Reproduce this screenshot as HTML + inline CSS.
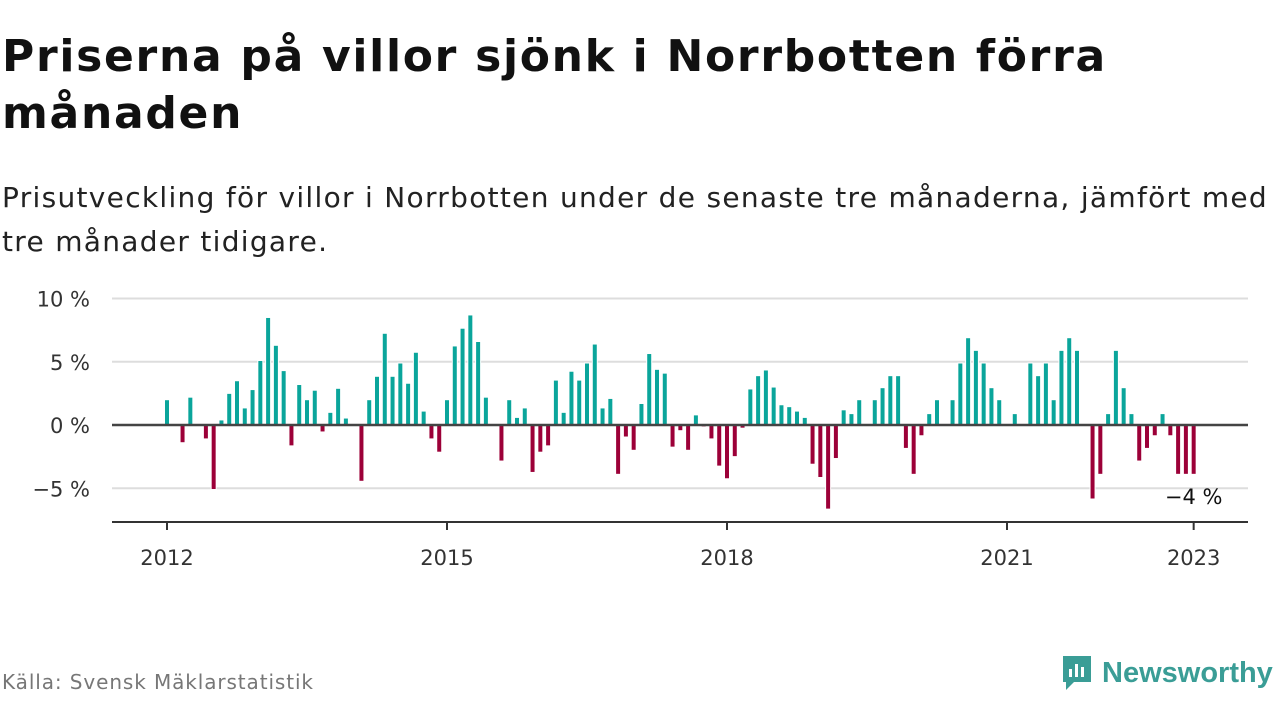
<!DOCTYPE html>
<html><head><meta charset="utf-8"><style>
body{margin:0;width:1280px;height:720px;background:#fff;overflow:hidden;font-family:"DejaVu Sans","Liberation Sans",sans-serif;color:#111}
#title{position:absolute;left:2px;top:28px;font-size:44px;font-weight:bold;line-height:57px;margin:0;letter-spacing:1.7px;white-space:nowrap}
#sub{position:absolute;left:2px;top:176px;font-size:28px;line-height:44px;color:#222;letter-spacing:1.3px;white-space:nowrap}
#src{position:absolute;left:2px;top:670px;font-size:20px;color:#777;letter-spacing:0.9px}
#logo{position:absolute;left:1060px;top:654px;display:flex;align-items:center}
#logo span{font-family:"Liberation Sans",sans-serif;font-size:29px;font-weight:bold;color:#3a9d96;margin-left:8px}
</style></head><body>
<h1 id="title">Priserna på villor sjönk i Norrbotten förra<br>månaden</h1>
<div id="sub">Prisutveckling för villor i Norrbotten under de senaste tre månaderna, jämfört med<br>tre månader tidigare.</div>
<svg id="chart" width="1280" height="720" style="position:absolute;left:0;top:0"></svg>
<div id="src">Källa: Svensk Mäklarstatistik</div>
<div id="logo">
<svg width="34" height="38" viewBox="0 0 34 38"><path d="M3 2h28v26H14l-8 8v-8H3z" fill="#3a9d96"/><rect x="9" y="15" width="3" height="8" fill="#fff"/><rect x="15" y="10" width="3" height="13" fill="#fff"/><rect x="21" y="13" width="3" height="10" fill="#fff"/></svg>
<span>Newsworthy</span></div>
<script>
const values=[2.0,0,-1.4,2.2,0,-1.1,-5.1,0.4,2.5,3.5,1.35,2.8,5.1,8.5,6.3,4.3,-1.65,3.2,2.0,2.75,-0.55,1.0,2.9,0.55,0,-4.45,2.0,3.85,7.25,3.85,4.9,3.3,5.75,1.1,-1.1,-2.15,2.0,6.25,7.65,8.7,6.6,2.2,0,-2.85,2.0,0.6,1.35,-3.75,-2.15,-1.65,3.55,1.0,4.25,3.55,4.9,6.4,1.35,2.1,-3.9,-0.95,-2.0,1.7,5.65,4.4,4.1,-1.75,-0.45,-2.0,0.8,-0.15,-1.1,-3.25,-4.25,-2.5,-0.25,2.85,3.9,4.35,3.0,1.6,1.45,1.1,0.6,-3.1,-4.15,-6.65,-2.65,1.2,0.9,2.0,0,2.0,2.95,3.9,3.9,-1.85,-3.9,-0.85,0.9,2.0,0,2.0,4.9,6.9,5.9,4.9,2.95,2.0,0,0.9,0,4.9,3.9,4.9,2.0,5.9,6.9,5.9,0,-5.85,-3.9,0.9,5.9,2.95,0.9,-2.85,-1.85,-0.85,0.9,-0.85,-3.9,-3.9,-3.9];
const startYear=2012;
const yTicks=[10,5,0,-5];
const yTickLabels=["10 %","5 %","0 %","−5 %"];
const xTicks=[2012,2015,2018,2021,2023];
const lastLabel="−4 %";
const svg=document.getElementById('chart');
const NS='http://www.w3.org/2000/svg';
const x=m=>167+m*(280/36);
const y=v=>425-v*12.65;
function el(t,a){const e=document.createElementNS(NS,t);for(const k in a)e.setAttribute(k,a[k]);svg.appendChild(e);return e;}
yTicks.forEach((t,i)=>{
 if(t!==0){const g=el('line',{x1:112,x2:1248,y1:y(t),y2:y(t),stroke:'#ddd','stroke-width':2});
 
 }
 const l=el('text',{x:90,y:y(t)+8,'text-anchor':'end','font-size':21,fill:'#333','font-family':'DejaVu Sans, sans-serif'});l.textContent=yTickLabels[i];
 
 
});
values.forEach((v,m)=>{
 if(v===0)return;
 const b=el('rect',{x:x(m)-2.5,width:5,y:v>0?y(v):y(0),height:Math.abs(y(v)-y(0)),fill:v>0?'#0aa59b':'#9c0038',stroke:'#fff','stroke-width':1});
 
 
});
const z=el('line',{x1:112,x2:1248,y1:y(0),y2:y(0),stroke:'#444','stroke-width':2.5});


const ax=el('line',{x1:112,x2:1248,y1:522,y2:522,stroke:'#333','stroke-width':2});


xTicks.forEach(t=>{
 const xx=x((t-startYear)*12);
 const tk=el('line',{x1:xx,x2:xx,y1:522,y2:530,stroke:'#333','stroke-width':2});
 
 
 const l=el('text',{x:xx,y:565,'text-anchor':'middle','font-size':21,fill:'#333','font-family':'DejaVu Sans, sans-serif'});l.textContent=t;
 
 
});
const ll=el('text',{x:x(values.length-1),y:504,'text-anchor':'middle','font-size':21,fill:'#111','font-family':'DejaVu Sans, sans-serif'});ll.textContent=lastLabel;


</script>
</body></html>
